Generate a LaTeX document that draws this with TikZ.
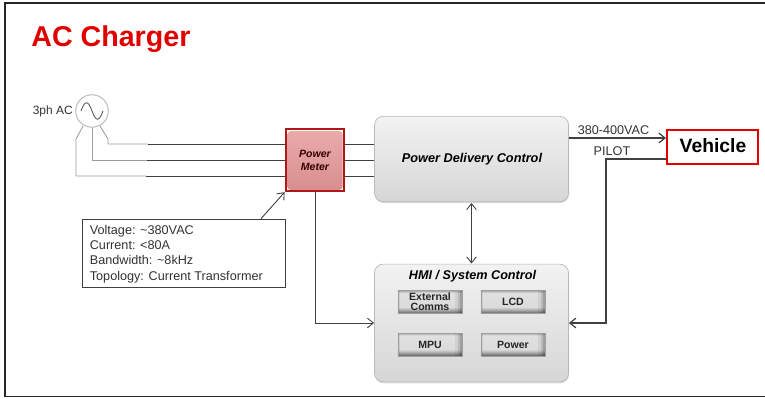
\documentclass[tikz,border=0pt]{standalone}
\usepackage{xcolor}
\usepackage{fontspec}
\setmainfont{Liberation Sans}
\usetikzlibrary{arrows.meta, calc, shadows}

\definecolor{chargerred}{HTML}{E00000}
\definecolor{meterred}{HTML}{B01818}
\definecolor{metertop}{HTML}{EAAAAA}
\definecolor{meterbot}{HTML}{D88E8E}
\definecolor{wiregray}{HTML}{9C9C9C}
\definecolor{wiredark}{HTML}{404040}

\pgfdeclareverticalshading{chipface}{100bp}{
    color(0bp)=(black!65); color(25bp)=(black!62); color(33bp)=(black!32); color(39bp)=(black!14);
    color(70bp)=(black!12); color(75bp)=(black!35); color(100bp)=(black!40)}

\tikzset{
    block/.style={draw=gray!55, rounded corners=5pt, top color=gray!10, bottom color=gray!32,
        drop shadow={shadow xshift=0.3pt, shadow yshift=-0.8pt, fill=gray!60}, inner sep=0pt},
    chip/.style={draw=gray!75, shading=chipface, minimum width=36.5pt, minimum height=13pt,
        inner sep=0pt, align=center, font=\fontsize{6}{6}\selectfont\bfseries, text=black!85,
        path picture={
            \fill[black, opacity=0.06] (path picture bounding box.north east) rectangle ([xshift=-4pt]path picture bounding box.south east);
            \fill[black, opacity=0.1] (path picture bounding box.north east) rectangle ([xshift=-2.5pt]path picture bounding box.south east);
            \fill[black, opacity=0.14] (path picture bounding box.north east) rectangle ([xshift=-1.2pt]path picture bounding box.south east);
            \fill[black, opacity=0.08] (path picture bounding box.north west) rectangle ([xshift=1pt]path picture bounding box.south west);
        }},
    wire/.style={draw=wiredark, line width=0.5pt},
    feed/.style={draw=wiregray, line width=0.5pt},
    sig/.style={wire, -{Straight Barb[length=3.4pt,width=5.5pt]}},
    lbl/.style={font=\fontsize{7.2}{8.7}\selectfont, text=black!80, inner sep=0pt}
}

\begin{document}
\begin{tikzpicture}[x=0.02cm, y=-0.02cm]
    % Page frame
    \useasboundingbox (0,0) rectangle (765,399);
    \fill[white] (0,0) rectangle (765,399);
    \draw[line width=1pt, black!85] (765,3) -- (5,3) -- (5,396.5) -- (765,396.5);

    % Title
    \node[anchor=west, inner sep=0pt, text=chargerred, font=\fontsize{16.3}{18}\selectfont\bfseries] (title) at (31,39) {AC Charger};

    % Source
    \node[draw=gray!50, circle, minimum size=18.5pt, inner sep=0pt, line width=0.6pt] (src) at (92,111) {};
    \draw[gray!70!black, line width=0.5pt] (81,111) .. controls (85,100) and (88,100) .. (92,111)
        .. controls (96,122) and (99,122) .. (103,111);
    \node[lbl, font=\fontsize{6.8}{8}\selectfont, anchor=east] (srclbl) at (73,111.5) {3ph AC};

    % Power meter
    \node[draw=meterred, line width=1.1pt, minimum width=33.5pt, minimum height=35.5pt, inner sep=0pt] (meter) at (315,160) {};
    \node[rounded corners=2pt, top color=metertop, bottom color=meterbot,
        minimum width=31.5pt, minimum height=33.5pt, inner sep=0pt, align=center,
        font=\fontsize{6}{7.6}\selectfont\bfseries\itshape, text=black!80!red] (metertxt) at (315,160.5) {Power\\Meter};

    % Main blocks
    \node[block, minimum width=110.5pt, minimum height=48.5pt] (pdc) at (471.5,159) {};
    \node[font=\fontsize{7.25}{8}\selectfont\bfseries\itshape, inner sep=0pt] (pdclbl) at (472,159.5) {Power Delivery Control};
    \node[block, minimum width=110.5pt, minimum height=67pt] (hmi) at (471.5,323) {};
    \node[font=\fontsize{7.2}{8}\selectfont\bfseries\itshape, inner sep=0pt] (hmilbl) at (472.5,276.5) {HMI / System Control};
    \node[chip] (comms) at (430,302) {External\\[-0.5pt]Comms};
    \node[chip] (lcd) at (513,302) {LCD};
    \node[chip] (mpu) at (430,344.5) {MPU};
    \node[chip] (power) at (513,344.5) {Power};

    % Vehicle
    \node[draw=red!90!black, line width=1pt, minimum width=52pt, minimum height=19pt, inner sep=0pt] (vehicle) at (712.5,147) {};
    \node[font=\fontsize{11}{12}\selectfont\bfseries, inner sep=0pt] (vehiclelbl) at (713,145.5) {Vehicle};

    % Note
    \node[draw=black!75, line width=0.6pt, minimum width=116pt, minimum height=39pt, inner sep=0pt] (note) at (184,253.5) {};
    \node[lbl, anchor=west, align=left] (notetxt) at (89.5,254) {Voltage: \textasciitilde380VAC\\Current: <80A\\Bandwidth: \textasciitilde8kHz\\Topology: Current Transformer};

    % Three phase feeds
    \draw[feed] (83,126) -- (76,139) -- (76,176) -- (146,176);
    \draw[feed] (src.south) -- (92,160) -- (147,160);
    \draw[feed] (100,126) -- (108,139) -- (108,144) -- (148,144);
    \draw[wire] (146,176) -- (meter.west |- 0,176);
    \draw[wire] (147,160) -- (meter.west |- 0,160);
    \draw[wire] (148,144) -- (meter.west |- 0,144);
    \foreach \y in {144,160,176} {
        \draw[wire] (meter.east |- 0,\y) -- (pdc.west |- 0,\y);
    }

    % Signals
    \draw[sig, line width=0.7pt] (pdc.east |- 0,138) -- (vehicle.west |- 0,138);
    \node[lbl] (vaclbl) at (613.5,130.5) {380-400VAC};
    \draw[sig, line width=0.7pt] (vehicle.west |- 0,159) -- (606,159) -- (606,323) -- (hmi.east |- 0,323);
    \node[lbl] (pilotlbl) at (612,151.5) {PILOT};
    \draw[sig, {Straight Barb[length=3.4pt,width=5.5pt]}-{Straight Barb[length=3.4pt,width=5.5pt]}] (hmi.north |- 0,263.5) -- (pdc.south |- 0,203);
    \draw[sig] (meter.south) -- (315,323) -- (hmi.west |- 0,323);
    \draw[sig] (note.north -| 261,0) -- (meter.south west);
\end{tikzpicture}
\end{document}
